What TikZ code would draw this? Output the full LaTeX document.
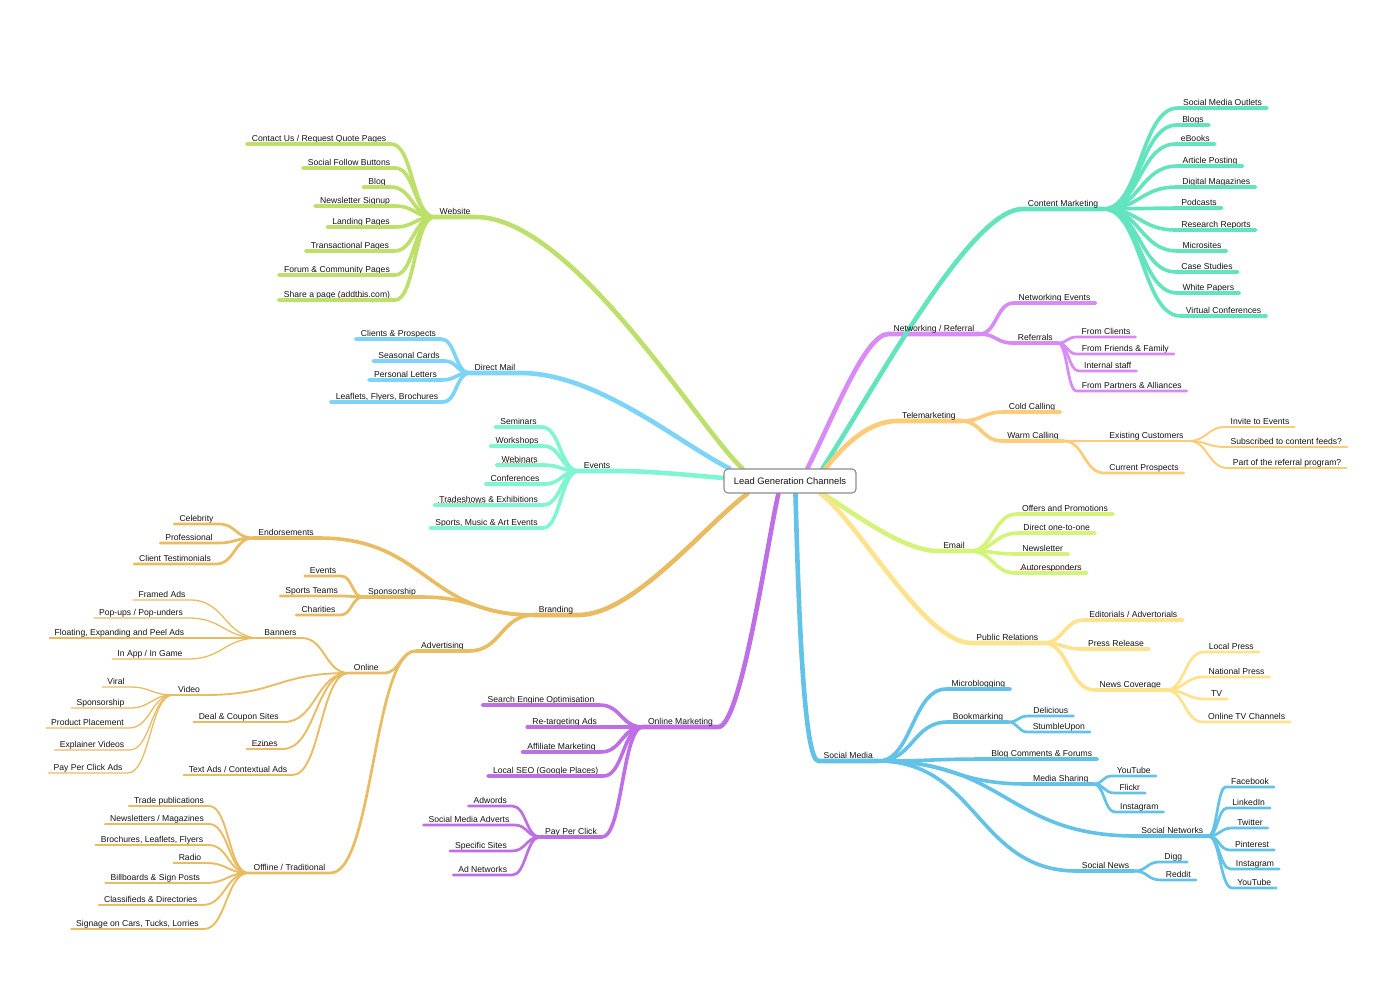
\documentclass[tikz,border=0pt]{standalone}
\usepackage{fontspec}
\setmainfont{Liberation Sans}
\usetikzlibrary{calc}
\pgfdeclarelayer{bg}
\pgfsetlayers{bg,main}
\definecolor{cWeb}{HTML}{BDE06A}
\definecolor{cDM}{HTML}{7CD4F8}
\definecolor{cEv}{HTML}{80F5D2}
\definecolor{cBr}{HTML}{E9BC62}
\definecolor{cOM}{HTML}{BF6FE6}
\definecolor{cSM}{HTML}{62C2E8}
\definecolor{cNW}{HTML}{D88AF6}
\definecolor{cCM}{HTML}{62E4BF}
\definecolor{cTM}{HTML}{FFCB78}
\definecolor{cEm}{HTML}{D3F479}
\definecolor{cPR}{HTML}{FFE38C}
\newcommand\mmL[6]{%
  \node[mmt] (#1) at (#3,#4) {#5};
  \coordinate (mmmid) at ($(#2.south west)!0.5!(#1.south east)$);
  \draw[#6] (#2.south west) .. controls (mmmid |- #2.south west) and (mmmid |- #1.south east) .. (#1.south east) -- (#1.south west);
}
\newcommand\mmR[6]{%
  \node[mmt] (#1) at (#3,#4) {#5};
  \coordinate (mmmid) at ($(#2.south east)!0.5!(#1.south west)$);
  \draw[#6] (#2.south east) .. controls (mmmid |- #2.south east) and (mmmid |- #1.south west) .. (#1.south west) -- (#1.south east);
}
\begin{document}
\begin{tikzpicture}[x=1pt,y=-1pt,
  mmt/.style={anchor=south, inner xsep=5pt, inner ysep=0.9pt, text height=6.3pt, text depth=1.9pt, font=\fontsize{8.6}{10}\selectfont, text=black!92},
  rootbox/.style={draw=black!45, fill=white, rounded corners=4pt, line width=1.1pt, minimum width=132pt, minimum height=24pt, inner sep=0pt, font=\fontsize{9.4}{11}\selectfont, text=black!92},
  lv1/.style={line width=4.6pt, line cap=round, line join=round},
  lv2/.style={line width=3.6pt, line cap=round, line join=round},
  lv3/.style={line width=2.7pt, line cap=round, line join=round},
  lv4/.style={line width=1.9pt, line cap=round, line join=round},
  lv5/.style={line width=1.3pt, line cap=round, line join=round},
  spell/.style={red!80, dotted, line width=0.7pt}]
\useasboundingbox (0,0) rectangle (1394,999);
\node[rootbox] (root) at (790,481) {Lead Generation Channels};
% level 1
\node[mmt] (web) at (455,217) {Website};
\node[mmt] (dm) at (495,373) {Direct Mail};
\node[mmt] (ev) at (597,471) {Events};
\node[mmt] (br) at (556,615) {Branding};
\node[mmt] (om) at (680.5,727) {Online Marketing};
\node[mmt] (sm) at (848.3,761) {Social Media};
\node[mmt] (nw) at (934,334) {Networking / Referral};
\node[mmt] (cm) at (1063,209) {Content Marketing};
\node[mmt] (tm) at (929,421) {Telemarketing};
\node[mmt] (em) at (954,551) {Email};
\node[mmt] (pr) at (1007.3,643) {Public Relations};
\begin{pgfonlayer}{bg}
\fill[white] (0,0) rectangle (1394,999);
\draw[cWeb,lv1] ([xshift=19pt]root.north west) .. controls +(-43,-39) and +(97,0) .. (web.south east) -- (web.south west);
\draw[cDM,lv1] ([xshift=6pt]root.north west) .. controls +(-50,-25) and +(77,0) .. (dm.south east) -- (dm.south west);
\draw[cEv,lv1] ([yshift=3pt]root.west) .. controls +(-35,-3) and +(35,0) .. (ev.south east) -- (ev.south west);
\draw[cBr,lv1] ([xshift=24pt]root.south west) .. controls +(-43,32) and +(55,0) .. (br.south east) -- (br.south west);
\draw[cOM,lv1] ([xshift=55pt]root.south west) .. controls +(-11,47) and +(23,0) .. (om.south east) -- (om.south west);
\draw[cSM,lv1] ([xshift=72pt]root.south west) .. controls +(3,110) and +(-15,0) .. (sm.south west) -- (sm.south east);
\draw[cNW,lv1] ([xshift=84pt]root.north west) .. controls +(27,-54) and +(-23,0) .. (nw.south west) -- (nw.south east);
\draw[cCM,lv1] ([xshift=99pt]root.north west) .. controls +(52,-79) and +(-53,0) .. (cm.south west) -- (cm.south east);
\draw[cTM,lv1] ([xshift=102pt]root.north west) .. controls +(19,-24) and +(-28,0) .. (tm.south west) -- (tm.south east);
\draw[cEm,lv1] ([xshift=99pt]root.south west) .. controls +(32,20) and +(-35,0) .. (em.south west) -- (em.south east);
\draw[cPR,lv1] ([xshift=97pt]root.south west) .. controls +(37,27) and +(-47,0) .. (pr.south west) -- (pr.south east);
\end{pgfonlayer}
% Website
\mmL{w1}{web}{319}{144}{Contact Us / Request Quote Pages}{cWeb,lv2}
\mmL{w2}{web}{349}{168}{Social Follow Buttons}{cWeb,lv2}
\mmL{w3}{web}{377}{187}{Blog}{cWeb,lv2}
\mmL{w4}{web}{355}{206}{Newsletter Signup}{cWeb,lv2}
\mmL{w5}{web}{361}{227}{Landing Pages}{cWeb,lv2}
\mmL{w6}{web}{350}{251}{Transactional Pages}{cWeb,lv2}
\mmL{w7}{web}{337}{275}{Forum \& Community Pages}{cWeb,lv2}
\mmL{w8}{web}{337}{300}{Share a page (addthis.com)}{cWeb,lv2}
% Direct mail
\mmL{d1}{dm}{398.5}{339}{Clients \& Prospects}{cDM,lv2}
\mmL{d2}{dm}{409}{361}{Seasonal Cards}{cDM,lv2}
\mmL{d3}{dm}{405.5}{380}{Personal Letters}{cDM,lv2}
\mmL{d4}{dm}{387}{402}{Leaflets, Flyers, Brochures}{cDM,lv2}
% Events
\mmL{e1}{ev}{518.5}{427}{Seminars}{cEv,lv2}
\mmL{e2}{ev}{517}{446}{Workshops}{cEv,lv2}
\mmL{e3}{ev}{519.7}{465}{Webinars}{cEv,lv2}
\mmL{e4}{ev}{515}{484}{Conferences}{cEv,lv2}
\mmL{e5}{ev}{488.7}{505}{Tradeshows \& Exhibitions}{cEv,lv2}
\mmL{e6}{ev}{486.5}{528}{Sports, Music \& Art Events}{cEv,lv2}
% Branding
\mmL{b1}{br}{286}{538}{Endorsements}{cBr,lv2}
\mmL{b2}{br}{392}{597}{Sponsorship}{cBr,lv2}
\mmL{b3}{br}{442.5}{651}{Advertising}{cBr,lv2}
\mmL{b11}{b1}{196.5}{524}{Celebrity}{cBr,lv3}
\mmL{b12}{b1}{189}{543}{Professional}{cBr,lv3}
\mmL{b13}{b1}{175}{564}{Client Testimonials}{cBr,lv3}
\mmL{b21}{b2}{323}{576}{Events}{cBr,lv3}
\mmL{b22}{b2}{311.7}{596}{Sports Teams}{cBr,lv3}
\mmL{b23}{b2}{318.5}{615}{Charities}{cBr,lv3}
\mmL{on}{b3}{366.3}{673}{Online}{cBr,lv3}
\mmL{off}{b3}{289.5}{873}{Offline / Traditional}{cBr,lv3}
\mmL{ban}{on}{280.5}{638}{Banners}{cBr,lv4}
\mmL{vid}{on}{189}{695}{Video}{cBr,lv4}
\mmL{on3}{on}{238.7}{722}{Deal \& Coupon Sites}{cBr,lv4}
\mmL{on4}{on}{264.7}{749}{Ezines}{cBr,lv4}
\mmL{on5}{on}{238}{775}{Text Ads / Contextual Ads}{cBr,lv4}
\mmL{ba1}{ban}{162}{600}{Framed Ads}{cBr,lv5}
\mmL{ba2}{ban}{141}{618}{Pop-ups / Pop-unders}{cBr,lv5}
\mmL{ba3}{ban}{119.5}{638}{Floating, Expanding and Peel Ads}{cBr,lv5}
\mmL{ba4}{ban}{150}{659}{In App / In Game}{cBr,lv5}
\mmL{v1}{vid}{116}{687}{Viral}{cBr,lv5}
\mmL{v2}{vid}{100.5}{708}{Sponsorship}{cBr,lv5}
\mmL{v3}{vid}{87.5}{728}{Product Placement}{cBr,lv5}
\mmL{v4}{vid}{92}{750}{Explainer Videos}{cBr,lv5}
\mmL{v5}{vid}{88}{773}{Pay Per Click Ads}{cBr,lv5}
\mmL{of1}{off}{169}{806}{Trade publications}{cBr,lv4}
\mmL{of2}{off}{157}{824}{Newsletters / Magazines}{cBr,lv4}
\mmL{of3}{off}{152}{845}{Brochures, Leaflets, Flyers}{cBr,lv4}
\mmL{of4}{off}{190}{863}{Radio}{cBr,lv4}
\mmL{of5}{off}{155.3}{883}{Billboards \& Sign Posts}{cBr,lv4}
\mmL{of6}{off}{150.7}{905}{Classifieds \& Directories}{cBr,lv4}
\mmL{of7}{off}{137.5}{929}{Signage on Cars, Tucks, Lorries}{cBr,lv4}
% Online marketing
\mmL{o1}{om}{541}{705}{Search Engine Optimisation}{cOM,lv2}
\mmL{o2}{om}{564.7}{727}{Re-targeting Ads}{cOM,lv2}
\mmL{o3}{om}{561.5}{752}{Affiliate Marketing}{cOM,lv2}
\mmL{o4}{om}{545.7}{776}{Local SEO (Google Places)}{cOM,lv2}
\mmL{ppc}{om}{571}{837}{Pay Per Click}{cOM,lv2}
\mmL{p1}{ppc}{490.3}{806}{Adwords}{cOM,lv3}
\mmL{p2}{ppc}{469}{825}{Social Media Adverts}{cOM,lv3}
\mmL{p3}{ppc}{481}{851}{Specific Sites}{cOM,lv3}
\mmL{p4}{ppc}{482.7}{875}{Ad Networks}{cOM,lv3}
% Content marketing
\mmR{c1}{cm}{1222.5}{108}{Social Media Outlets}{cCM,lv2}
\mmR{c2}{cm}{1193}{125}{Blogs}{cCM,lv2}
\mmR{c3}{cm}{1195.3}{144}{eBooks}{cCM,lv2}
\mmR{c4}{cm}{1210}{166}{Article Posting}{cCM,lv2}
\mmR{c5}{cm}{1216.3}{187}{Digital Magazines}{cCM,lv2}
\mmR{c6}{cm}{1199}{208}{Podcasts}{cCM,lv2}
\mmR{c7}{cm}{1216}{230}{Research Reports}{cCM,lv2}
\mmR{c8}{cm}{1202}{251}{Microsites}{cCM,lv2}
\mmR{c9}{cm}{1207}{272}{Case Studies}{cCM,lv2}
\mmR{c10}{cm}{1208.3}{293}{White Papers}{cCM,lv2}
\mmR{c11}{cm}{1223.5}{316}{Virtual Conferences}{cCM,lv2}
% Networking
\mmR{n1}{nw}{1054.5}{303}{Networking Events}{cNW,lv2}
\mmR{ref}{nw}{1035.3}{343}{Referrals}{cNW,lv2}
\mmR{r1}{ref}{1106}{337}{From Clients}{cNW,lv3}
\mmR{r2}{ref}{1125.3}{354}{From Friends \& Family}{cNW,lv3}
\mmR{r3}{ref}{1107.7}{371}{Internal staff}{cNW,lv3}
\mmR{r4}{ref}{1131.7}{391}{From Partners \& Alliances}{cNW,lv3}
% Telemarketing
\mmR{t1}{tm}{1032}{412}{Cold Calling}{cTM,lv2}
\mmR{wc}{tm}{1033}{441}{Warm Calling}{cTM,lv2}
\mmR{ec}{wc}{1146.5}{441}{Existing Customers}{cTM,lv3}
\mmR{cp}{wc}{1144}{473}{Current Prospects}{cTM,lv3}
\mmR{x1}{ec}{1260}{427}{Invite to Events}{cTM,lv4}
\mmR{x2}{ec}{1286.3}{447}{Subscribed to content feeds?}{cTM,lv4}
\mmR{x3}{ec}{1287}{468}{Part of the referral program?}{cTM,lv4}
% Email
\mmR{m1}{em}{1065}{514}{Offers and Promotions}{cEm,lv2}
\mmR{m2}{em}{1056.7}{533}{Direct one-to-one}{cEm,lv2}
\mmR{m3}{em}{1042.7}{554}{Newsletter}{cEm,lv2}
\mmR{m4}{em}{1051.3}{573}{Autoresponders}{cEm,lv2}
% Public relations
\mmR{pr1}{pr}{1133.3}{620}{Editorials / Advertorials}{cPR,lv2}
\mmR{pr2}{pr}{1116}{649}{Press Release}{cPR,lv2}
\mmR{nc}{pr}{1130.3}{690}{News Coverage}{cPR,lv2}
\mmR{nc1}{nc}{1231.3}{652}{Local Press}{cPR,lv3}
\mmR{nc2}{nc}{1236.5}{677}{National Press}{cPR,lv3}
\mmR{nc3}{nc}{1216.7}{699}{TV}{cPR,lv3}
\mmR{nc4}{nc}{1246.7}{722}{Online TV Channels}{cPR,lv3}
% Social media
\mmR{s1}{sm}{978.3}{689}{Microblogging}{cSM,lv2}
\mmR{bk}{sm}{978}{722}{Bookmarking}{cSM,lv2}
\mmR{s3}{sm}{1041.7}{759}{Blog Comments \& Forums}{cSM,lv2}
\mmR{ms}{sm}{1060.8}{784}{Media Sharing}{cSM,lv2}
\mmR{sn}{sm}{1172.3}{836}{Social Networks}{cSM,lv2}
\mmR{snw}{sm}{1105.5}{871}{Social News}{cSM,lv2}
\mmR{bk1}{bk}{1050.8}{716}{Delicious}{cSM,lv3}
\mmR{bk2}{bk}{1058.8}{732}{StumbleUpon}{cSM,lv3}
\mmR{ms1}{ms}{1133.8}{776}{YouTube}{cSM,lv3}
\mmR{ms2}{ms}{1129.8}{793}{Flickr}{cSM,lv3}
\mmR{ms3}{ms}{1139.3}{812}{Instagram}{cSM,lv3}
\mmR{sn1}{sn}{1250}{787}{Facebook}{cSM,lv3}
\mmR{sn2}{sn}{1248.7}{808}{LinkedIn}{cSM,lv3}
\mmR{sn3}{sn}{1250}{828}{Twitter}{cSM,lv3}
\mmR{sn4}{sn}{1252}{850}{Pinterest}{cSM,lv3}
\mmR{sn5}{sn}{1255}{869}{Instagram}{cSM,lv3}
\mmR{sn6}{sn}{1254.2}{888}{YouTube}{cSM,lv3}
\mmR{sw1}{snw}{1173.3}{862}{Digg}{cSM,lv3}
\mmR{sw2}{snw}{1178.3}{880}{Reddit}{cSM,lv3}
% spell-check marks
\draw[spell] (338,296) -- (363,296);
\draw[spell] (502,462.5) -- (537,462.5);
\draw[spell] (438,502.5) -- (485,502.5);
\draw[spell] (1020,569.5) -- (1082,569.5);
\draw[spell] (252,745.5) -- (277,745.5);
\end{tikzpicture}
\end{document}
